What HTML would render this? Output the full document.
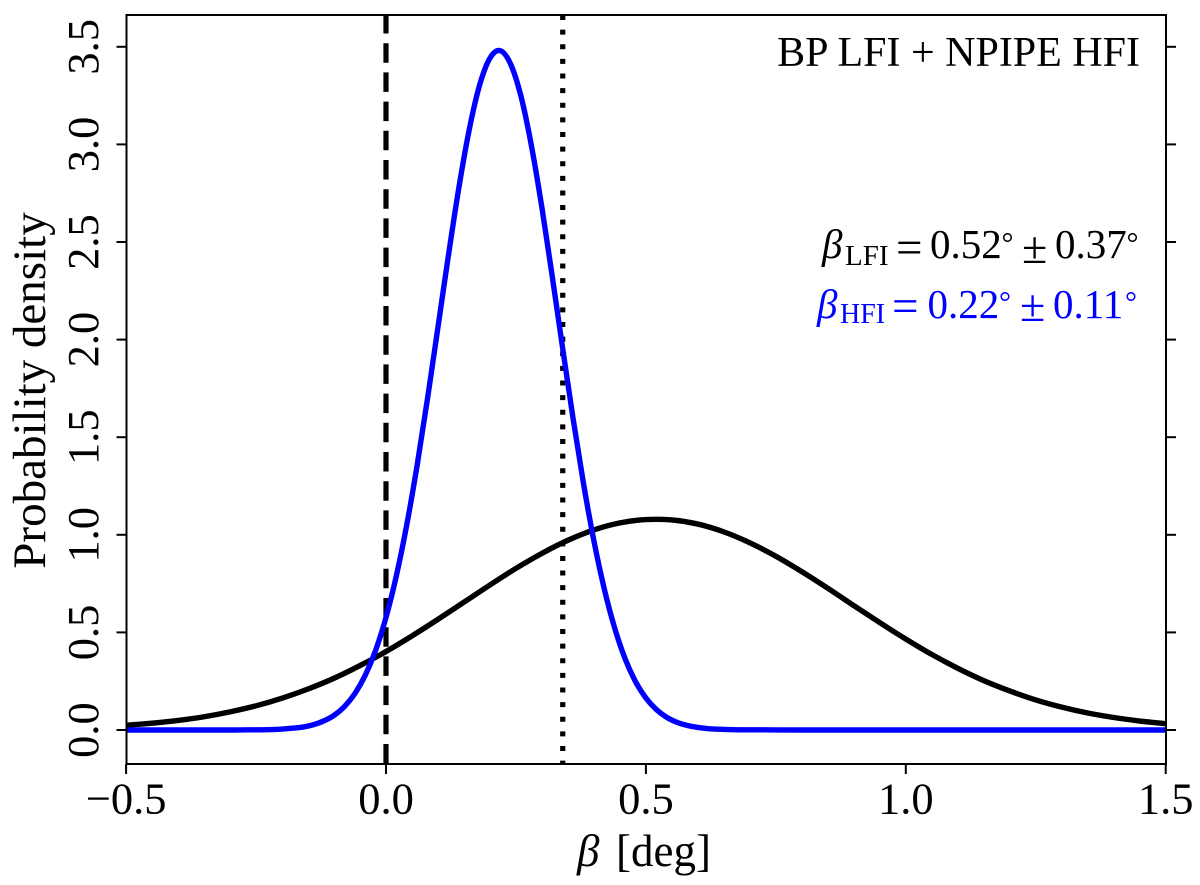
<!DOCTYPE html>
<html lang="en">
<head>
<meta charset="utf-8">
<title>Probability density of beta</title>
<style>
html,body{margin:0;padding:0;background:#fff;}
svg{display:block;}
text{font-family:"Liberation Serif","DejaVu Serif",serif;fill:#000;}
.blue{fill:#0000ff;}
</style>
</head>
<body>
<svg id="chart" width="1200" height="885" viewBox="0 0 1200 885" xmlns="http://www.w3.org/2000/svg">
  <defs>
    <clipPath id="plot-clip"><rect x="126" y="15" width="1040" height="749"/></clipPath>
  </defs>
  <g id="marks" clip-path="url(#plot-clip)"></g>
  <rect x="126.5" y="15" width="1039.5" height="749" fill="none" stroke="#000" stroke-width="2"/>
  <g id="ticks"></g>

  <text y="866" font-size="45"><tspan x="577" font-style="italic">β</tspan><tspan x="616">[deg]</tspan></text>
  <text transform="translate(45 390.5) rotate(-90)" text-anchor="middle" font-size="47">Probability density</text>

  <text x="1140" y="66" text-anchor="end" font-size="42">BP LFI + NPIPE HFI</text>

  <g font-size="41">
    <text x="822" y="258" font-style="italic">β</text>
    <text x="845" y="265" font-size="29">LFI</text>
    <text x="896" y="263" font-size="47">=</text>
    <text x="930" y="258">0.52</text>
    <text x="1001.5" y="253" font-size="30">°</text>
    <text x="1022" y="263" font-size="46">±</text>
    <text x="1055" y="258">0.37</text>
    <text x="1126.5" y="253" font-size="30">°</text>
  </g>
  <g font-size="41">
    <text class="blue" x="817" y="318" font-style="italic">β</text>
    <text class="blue" x="840" y="323" font-size="28">HFI</text>
    <text class="blue" x="892" y="321.5" font-size="47">=</text>
    <text class="blue" x="927.5" y="318">0.22</text>
    <text class="blue" x="999" y="312" font-size="30">°</text>
    <text class="blue" x="1020" y="321" font-size="46">±</text>
    <text class="blue" x="1053" y="318">0.11</text>
    <text class="blue" x="1125" y="312" font-size="30">°</text>
  </g>
</svg>
<script>
var xTickValues = [-0.5, 0.0, 0.5, 1.0, 1.5];
var xTickLabels = ["\u22120.5", "0.0", "0.5", "1.0", "1.5"];
var yTickValues = [0.0, 0.5, 1.0, 1.5, 2.0, 2.5, 3.0, 3.5];
var yTickLabels = ["0.0", "0.5", "1.0", "1.5", "2.0", "2.5", "3.0", "3.5"];
var zeroLineBeta = 0.0;
var dottedLineBeta = 0.34;

var lfiBeta = [-0.50,-0.45,-0.40,-0.35,-0.30,-0.25,-0.20,-0.15,-0.10,-0.05,0.00,0.05,0.10,0.15,0.20,0.25,0.30,0.35,0.40,0.45,0.50,0.55,0.60,0.65,0.70,0.75,0.80,0.85,0.90,0.95,1.00,1.05,1.10,1.15,1.20,1.25,1.30,1.35,1.40,1.45,1.50];
var lfiDensity = [0.024,0.035,0.049,0.068,0.093,0.124,0.163,0.210,0.265,0.330,0.402,0.482,0.567,0.655,0.743,0.828,0.905,0.972,1.025,1.061,1.078,1.076,1.055,1.015,0.959,0.890,0.811,0.726,0.637,0.550,0.466,0.387,0.316,0.253,0.200,0.154,0.117,0.087,0.064,0.046,0.032];

var hfiBeta = [-0.50,-0.40,-0.30,-0.26,-0.24,-0.22,-0.20,-0.18,-0.16,-0.14,-0.12,-0.10,-0.08,-0.06,-0.04,-0.02,0.00,0.02,0.04,0.06,0.08,0.10,0.12,0.14,0.16,0.18,0.20,0.22,0.24,0.26,0.28,0.30,0.32,0.34,0.36,0.38,0.40,0.42,0.44,0.46,0.48,0.50,0.52,0.54,0.56,0.58,0.60,0.62,0.64,0.66,0.68,0.70,0.80,1.00,1.50];
var hfiDensity = [0,0,0,0.001,0.001,0.002,0.005,0.009,0.015,0.027,0.046,0.075,0.120,0.186,0.280,0.408,0.577,0.791,1.052,1.358,1.700,2.064,2.430,2.775,3.074,3.303,3.442,3.480,3.410,3.243,2.990,2.675,2.320,1.953,1.594,1.262,0.969,0.722,0.522,0.365,0.248,0.164,0.105,0.065,0.039,0.023,0.013,0.007,0.004,0.002,0.001,0.001,0,0,0];

var NS = "http://www.w3.org/2000/svg";
function xScale(v){ return 386 + 519.8 * v; }
function yScale(v){ return 730 - 195.2 * v; }
function make(tag, attrs, parent){
  var el = document.createElementNS(NS, tag);
  for (var k in attrs) el.setAttribute(k, attrs[k]);
  parent.appendChild(el);
  return el;
}
/* Smooth curve through the data points: cubic Hermite segments with finite-difference slopes. */
function curvePath(xs, ys){
  var n = xs.length, px = xs.map(xScale), py = ys.map(yScale), m = [];
  for (var i = 0; i < n; i++){
    if (i === 0) m[i] = (py[1] - py[0]) / (px[1] - px[0]);
    else if (i === n - 1) m[i] = (py[i] - py[i-1]) / (px[i] - px[i-1]);
    else if (py[i] === py[i-1] || py[i] === py[i+1]) m[i] = 0;
    else m[i] = (py[i+1] - py[i-1]) / (px[i+1] - px[i-1]);
  }
  var d = "M" + px[0].toFixed(2) + " " + py[0].toFixed(2);
  for (var j = 0; j < n - 1; j++){
    var h = (px[j+1] - px[j]) / 3;
    d += " C" + (px[j] + h).toFixed(2) + " " + (py[j] + m[j] * h).toFixed(2) + " " +
         (px[j+1] - h).toFixed(2) + " " + (py[j+1] - m[j+1] * h).toFixed(2) + " " +
         px[j+1].toFixed(2) + " " + py[j+1].toFixed(2);
  }
  return d;
}

var marks = document.getElementById("marks");
var ticks = document.getElementById("ticks");

var zeroLine = make("line", {x1:xScale(zeroLineBeta), x2:xScale(zeroLineBeta), y1:14, y2:765, stroke:"#000", "stroke-width":5.2, "stroke-dasharray":"19.5 9.7"}, marks);



var dottedLine = make("line", {x1:xScale(dottedLineBeta), x2:xScale(dottedLineBeta), y1:15, y2:765, stroke:"#000", "stroke-width":5.2, "stroke-dasharray":"5 9.62"}, marks);



var lfiLine = make("path", {d:curvePath(lfiBeta, lfiDensity), fill:"none", stroke:"#000", "stroke-width":5.4, "stroke-linejoin":"round"}, marks);



var hfiLine = make("path", {d:curvePath(hfiBeta, hfiDensity), fill:"none", stroke:"#0000ff", "stroke-width":5.4, "stroke-linejoin":"round"}, marks);



xTickValues.forEach(function(v, i){
  var px = xScale(v);
  var mark = make("line", {x1:px, x2:px, y1:764, y2:774, stroke:"#000", "stroke-width":2}, ticks);
  
  
  var label = make("text", {x:px, y:813.5, "text-anchor":"middle", "font-size":44.5}, ticks);
  
  
  label.textContent = xTickLabels[i];
});

yTickValues.forEach(function(v, i){
  var py = yScale(v);
  var left = make("line", {x1:116.5, x2:126.5, y1:py, y2:py, stroke:"#000", "stroke-width":2}, ticks);
  
  
  var right = make("line", {x1:1166, x2:1176, y1:py, y2:py, stroke:"#000", "stroke-width":2}, ticks);
  
  
  var label = make("text", {transform:"translate(98 " + py + ") rotate(-90)", "text-anchor":"middle", "font-size":44.5}, ticks);
  
  
  label.textContent = yTickLabels[i];
});
</script>
</body>
</html>
